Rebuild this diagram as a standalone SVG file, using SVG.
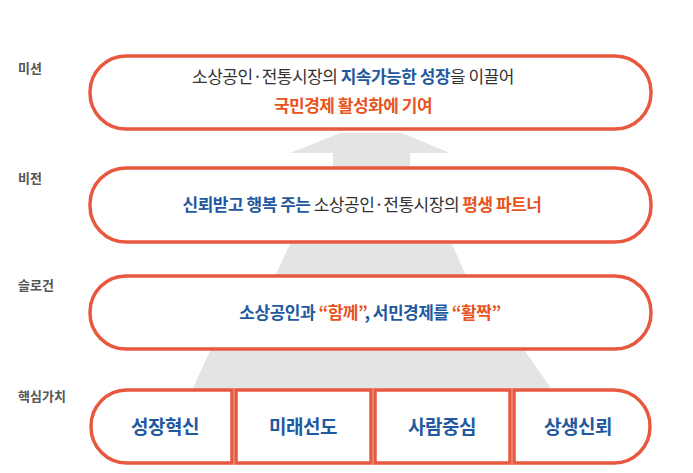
<svg xmlns="http://www.w3.org/2000/svg" width="693" height="473" viewBox="0 0 693 473">
<style>
text{font-family:"Noto Sans CJK KR","Noto Sans",sans-serif}
.box{fill:#fff;stroke:#e8583f;stroke-width:3.5}
.lbl{font-size:13px;fill:#555;font-weight:700}
.m{font-size:17px;fill:#333;text-anchor:middle;letter-spacing:-0.5px}
.b{fill:#1f5aa0;font-weight:700}
.o{fill:#e8541e;font-weight:700}
.v{font-size:17px;fill:#1f5aa0;font-weight:700;text-anchor:middle;letter-spacing:-0.5px}
.c{font-size:19px}
.g{fill:#e4e4e4}
</style>
<g id="connectors">
<polygon class="g" points="340,133 402,133 450,153 410,153 410,168 333,168 333,153 290,153"/>
<polygon class="g" points="290,244 452,244 466,276 275,276"/>
<polygon class="g" points="210,351 525,351 552,390 192,390"/>
</g>
<g id="labels">
<text class="lbl" x="18" y="73">미션</text>
<text class="lbl" x="18" y="183">비전</text>
<text class="lbl" x="18" y="290">슬로건</text>
<text class="lbl" x="18" y="401">핵심가치</text>
</g>
<g id="mission">
<rect class="box" x="90" y="56" width="561" height="73" rx="36"/>
<text class="m" x="353" y="83">소상공인·전통시장의 <tspan class="b">지속가능한 성장</tspan>을 이끌어</text>
<text class="m" x="353" y="112"><tspan class="o">국민경제 활성화에 기여</tspan></text>
</g>
<g id="vision">
<rect class="box" x="90" y="168" width="561" height="74" rx="36"/>
<text class="m" x="362" y="211"><tspan class="b">신뢰받고 행복 주는</tspan> 소상공인·전통시장의 <tspan class="o">평생 파트너</tspan></text>
</g>
<g id="slogan">
<rect class="box" x="90" y="276" width="561" height="73" rx="36"/>
<text class="v" x="370" y="319">소상공인과 <tspan class="o">“함께”</tspan>, 서민경제를 <tspan class="o">“활짝”</tspan></text>
</g>
<g id="v1"><path class="box" d="M127,390 H232 V463 H127 A36,36 0 0 1 91,427 A36,36 0 0 1 127,390 Z"/><text class="v c" x="165" y="434">성장혁신</text></g>
<g id="v2"><rect class="box" x="236" y="390" width="135" height="73"/><text class="v c" x="303" y="434">미래선도</text></g>
<g id="v3"><rect class="box" x="375" y="390" width="135" height="73"/><text class="v c" x="442" y="434">사람중심</text></g>
<g id="v4"><path class="box" d="M514,390 H614 A36,36 0 0 1 650,427 A36,36 0 0 1 614,463 H514 Z"/><text class="v c" x="578" y="434">상생신뢰</text></g>
</svg>
